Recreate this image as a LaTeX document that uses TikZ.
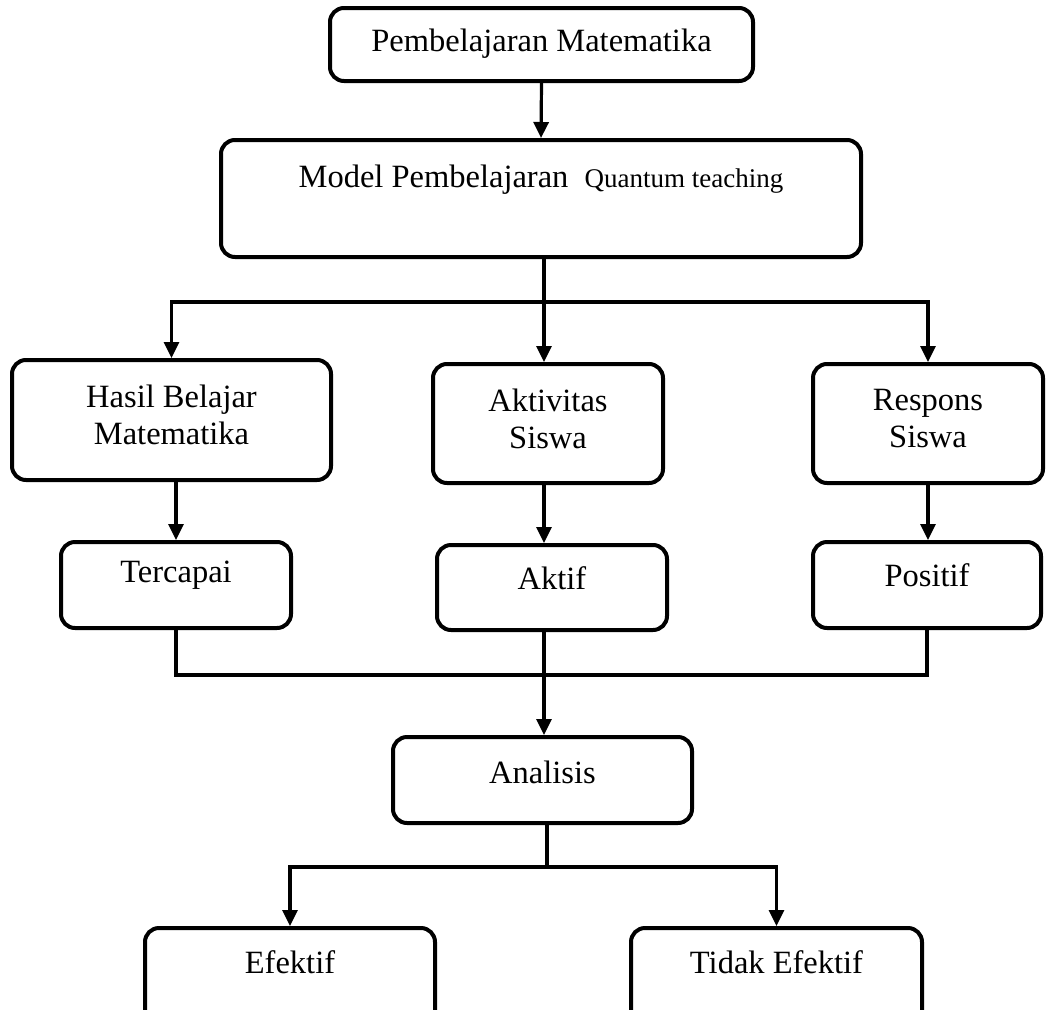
\documentclass[tikz,border=0pt]{standalone}
\usepackage{fontspec}
\setmainfont{Liberation Serif}
\usetikzlibrary{arrows.meta,calc}
\begin{document}
\begin{tikzpicture}[x=1pt,y=-1pt,
  box/.style={draw=black, line width=4pt, rounded corners=14pt, inner sep=0pt},
  txt/.style={font=\fontsize{32.5}{37}\selectfont, align=center, inner sep=0pt},
  link/.style={draw=black, line width=3.2pt},
  arr/.style={link, -{Triangle[length=16pt,width=15pt]}}]
\useasboundingbox (0,0) rectangle (1046,1009);
\clip (0,0) rectangle (1046,1009);
% boxes
\node[box, minimum width=423pt, minimum height=73pt] (top) at (541.5,44.5) {};
\node[txt] (toptxt) at (541.5,44) {Pembelajaran Matematika};
\node[box, minimum width=640pt, minimum height=117pt] (model) at (541,198.5) {};
\node[txt] (modeltxt) at (541,180) {Model Pembelajaran\ \ {\fontsize{27}{30}\selectfont Quantum teaching}};
\node[box, minimum width=319pt, minimum height=120pt] (hasil) at (171.5,420) {};
\node[txt] (hasiltxt) at (171.5,415) {Hasil Belajar\\Matematika};
\node[box, minimum width=230pt, minimum height=119pt] (aktiv) at (548,423.5) {};
\node[txt] (aktivtxt) at (548,419) {Aktivitas\\Siswa};
\node[box, minimum width=230pt, minimum height=119pt] (resp) at (928,423.5) {};
\node[txt] (resptxt) at (928,419) {Respons\\Siswa};
\node[box, minimum width=230pt, minimum height=86pt] (terc) at (176,585) {};
\node[txt] (terctxt) at (176,575) {Tercapai};
\node[box, minimum width=230pt, minimum height=85pt] (aktif) at (552,587.5) {};
\node[txt] (aktiftxt) at (552,578) {Aktif};
\node[box, minimum width=228pt, minimum height=86pt] (pos) at (927,585) {};
\node[txt] (postxt) at (927,575) {Positif};
\node[box, minimum width=299pt, minimum height=86pt] (anal) at (542.5,780) {};
\node[txt] (analtxt) at (542.5,772) {Analisis};
\node[box, minimum width=290pt, minimum height=132pt] (efek) at (290,994) {};
\node[txt] (efektxt) at (290,962) {Efektif};
\node[box, minimum width=291pt, minimum height=132pt] (tidak) at (776.5,994) {};
\node[txt] (tidaktxt) at (776.5,962) {Tidak Efektif};
% junctions
\coordinate (j1) at (544,302);
\coordinate (j2) at (544,675);
\coordinate (j3) at (547,867);
% connectors
\draw[arr] (top.south) -- (model.north);
\draw[link] (j1 |- model.south) -- (j1);
\draw[arr] (j1) -| (hasil.north);
\draw[arr] (j1) -- (j1 |- aktiv.north);
\draw[arr] (j1) -| (resp.north);
\draw[arr] (terc.north |- hasil.south) -- (terc.north);
\draw[arr] (j1 |- aktiv.south) -- (j1 |- aktif.north);
\draw[arr] (resp.south) -- (resp.south |- pos.north);
\draw[link] (terc.south) -- (terc.south |- j2) -- (pos.south |- j2) -- (pos.south);
\draw[arr] (j2 |- aktif.south) -- (j2 |- anal.north);
\draw[link] (j3 |- anal.south) -- (j3);
\draw[arr] (j3) -| (efek.north);
\draw[arr] (j3) -| (tidak.north);
\end{tikzpicture}
\end{document}
